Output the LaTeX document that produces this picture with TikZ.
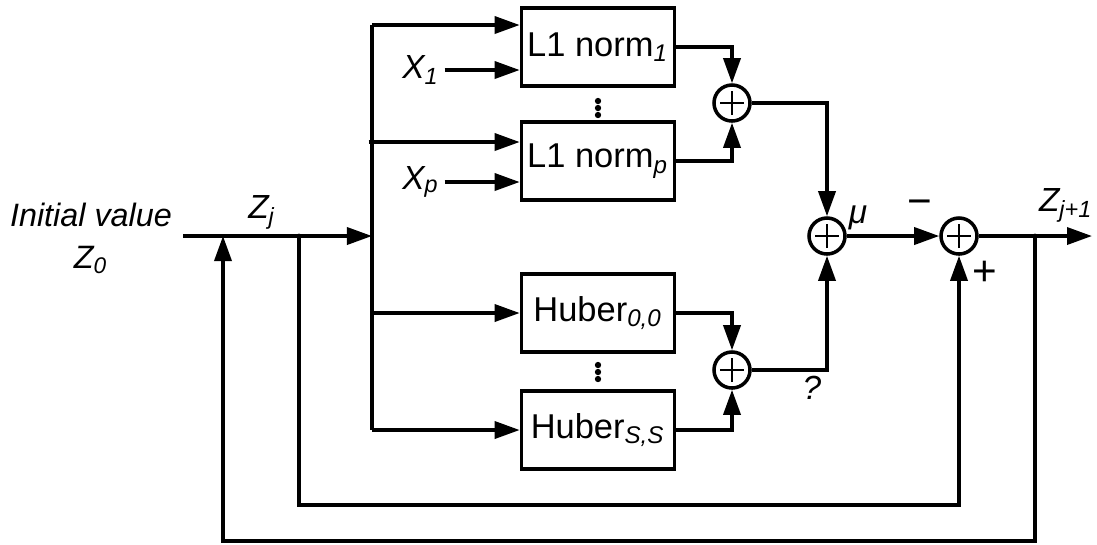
\documentclass[tikz,border=0pt]{standalone}
\usepackage{fontspec}
\setmainfont{Liberation Sans}
\usetikzlibrary{arrows.meta, positioning, calc}
\newcommand{\ssub}[1]{\textsubscript{\itshape #1}}

\begin{document}
\begin{tikzpicture}[x=0.01cm, y=-0.01cm, line width=1pt,
    >={Triangle[length=2.5mm, width=1.7mm]},
    block/.style={draw, minimum width=1.53cm, minimum height=0.78cm,
                  inner sep=0pt, font=\fontsize{9.8}{11}\selectfont},
    sumnode/.style={circle, draw, minimum size=3.6mm, inner sep=0pt,
      path picture={\draw[line width=0.8pt]
        ($(path picture bounding box.center)+(-1.2mm,0)$) --
        ($(path picture bounding box.center)+(1.2mm,0)$)
        ($(path picture bounding box.center)+(0,-1.2mm)$) --
        ($(path picture bounding box.center)+(0,1.2mm)$);}},
    lbl/.style={font=\fontsize{9.5}{12}\selectfont\itshape, inner sep=1pt},
    sgn/.style={font=\fontsize{12}{12}\selectfont, inner sep=0pt}]
  \useasboundingbox (0,0) rectangle (1097,544);

  % blocks
  \node[block] (l1a) at (598,47)  {L1 norm\ssub{1}};
  \node[block] (l1p) at (598,161) {L1 norm\ssub{p}};
  \node[block] (h00) at (598,313) {Huber\ssub{0,0}};
  \node[block] (hss) at (598,430) {Huber\ssub{S,S}};
  \foreach \y in {101,108,115} \fill (598,\y) circle (0.9pt);
  \foreach \y in {365,372,379} \fill (598,\y) circle (0.9pt);

  % summing junctions
  \node[sumnode] (s1)   at (732,103) {};
  \node[sumnode] (s2)   at (732,370) {};
  \node[sumnode] (sum1) at (827,236) {};
  \node[sumnode] (sum2) at (959,236) {};

  % points on the main line
  \coordinate (zstart) at (183,236);
  \coordinate (busmid) at (372,236);
  \coordinate (bustop) at (372,25);
  \coordinate (busbot) at (372,430);
  \coordinate (tap1)   at (223,236);
  \coordinate (tap2)   at (299,236);
  \coordinate (tapout) at (1035,236);
  \coordinate (zend)   at (1092,236);
  \coordinate (fbl)    at (223,541);

  \node[lbl, align=center, font=\fontsize{9.2}{12}\selectfont\itshape]
    (init) at (91,238) {Initial value\\Z\ssub{0}};
  \node[lbl] (zj)  at (262,212) {Z\ssub{j}};
  \node[lbl] (zj1) at (1066,205) {Z\ssub{j+1}};
  \node[lbl] (mu)  at (858,218) {μ};
  \node[lbl] (q)   at (812,388) {?};
  \node[sgn] (minus) at (920,208) {−};
  \node[sgn] (plus)  at (985,273) {+};

  % forward path
  \draw[->] (zstart) -- (busmid);
  \draw (bustop) -- (busbot);
  \draw[->] (bustop) -- (bustop -| l1a.west);
  \draw[->] ($(l1a.west)+(-75,23)$) node[lbl, left] (x1) {X\ssub{1}} -- ++(75,0);
  \draw[->] ($(l1p.west)+(0,-19)$) ++(-151,0) -- ++(151,0);
  \draw[->] ($(l1p.west)+(-75,21)$) node[lbl, left] (xp) {X\ssub{p}} -- ++(75,0);
  \draw[->] (busmid |- h00.west) -- (h00.west);
  \draw[->] (busbot) -- (hss.west);

  \draw[->] (l1a.east) -| (s1.north);
  \draw[->] (l1p.east) -| (s1.south);
  \draw[->] (h00.east) -| (s2.north);
  \draw[->] (hss.east) -| (s2.south);
  \draw[->] (s1.east) -| (sum1.north);
  \draw[->] (s2.east) -| (sum1.south);
  \draw[->] (sum1.east) -- (sum2.west);
  \draw[->] (sum2.east) -- (zend);

  % feedback paths
  \draw[->] (tapout) |- (fbl) -- (tap1);
  \draw[->] (tap2) -- ++(0,269) -| (sum2.south);
  \fill (tap2) circle (0.7pt);
  \fill (tapout) circle (0.7pt);
\end{tikzpicture}
\end{document}
